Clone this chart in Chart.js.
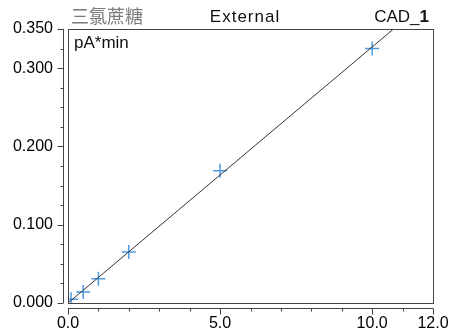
<!DOCTYPE html>
<html>
<head>
<meta charset="utf-8">
<script src="https://cdn.jsdelivr.net/npm/chart.js@4"></script>
<style>
  html, body { margin: 0; padding: 0; background: #fff; }
  #wrap { width: 449px; height: 334px; }
</style>
</head>
<body>
<div id="wrap"><canvas id="calib"></canvas></div>
<script>
// standards: amount vs. peak area
const amounts = [0.1, 0.5, 1, 2, 5, 10];
const areas = [0.0047, 0.014, 0.031, 0.065, 0.169, 0.325];

// calibration line end points
const fitX = [0, 10.7];
const fitY = [0, 0.35];

// which ticks get a label
const xLabels = [0, 5, 10, 12];
const yLabels = [0, 0.1, 0.2, 0.3, 0.35];

const compound = '三氯蔗糖';
const method = 'External';
const detector = 'CAD_';
const channel = '1';
const unit = 'pA*min';

const FONT = "'Liberation Sans', Arial, sans-serif";

function isLabelled(list, v) {
  return list.some(l => Math.abs(l - v) < 1e-6);
}

// frame around the plot, detached axes with ticks, header texts
const framePlugin = {
  id: 'frame',
  afterDraw(chart) {
    const ctx = chart.ctx;
    const a = chart.chartArea;
    const xs = chart.scales.x;
    const ys = chart.scales.y;
    const gap = 5;

    ctx.save();
    ctx.strokeStyle = '#444';
    ctx.lineWidth = 1;
    ctx.strokeRect(Math.round(a.left) + 0.5, Math.round(a.top) + 0.5,
      Math.round(a.right - a.left), Math.round(a.bottom - a.top));

    // y axis
    const yx = Math.round(a.left) - gap + 0.5;
    ctx.beginPath();
    ctx.moveTo(yx, ys.getPixelForValue(ys.max));
    ctx.lineTo(yx, ys.getPixelForValue(ys.min));
    ys.ticks.forEach(t => {
      const py = Math.round(ys.getPixelForValue(t.value)) + 0.5;
      const len = isLabelled(yLabels, t.value) ? 6 : 3;
      ctx.moveTo(yx, py);
      ctx.lineTo(yx - len, py);
    });
    ctx.stroke();

    // x axis
    const xy = Math.round(a.bottom) + gap + 0.5;
    ctx.beginPath();
    ctx.moveTo(xs.getPixelForValue(xs.min), xy);
    ctx.lineTo(xs.getPixelForValue(xs.max), xy);
    xs.ticks.forEach(t => {
      const px = Math.round(xs.getPixelForValue(t.value)) + 0.5;
      const len = isLabelled(xLabels, t.value) ? 6 : 3;
      ctx.moveTo(px, xy);
      ctx.lineTo(px, xy + len);
    });
    ctx.stroke();

    // header
    ctx.textBaseline = 'alphabetic';
    ctx.fillStyle = '#7a7a7a';
    ctx.font = "18px 'Noto Sans CJK TC', sans-serif";
    ctx.textAlign = 'left';
    ctx.fillText(compound, a.left + 3, 23);

    ctx.fillStyle = '#111';
    ctx.font = '17px ' + FONT;
    ctx.textAlign = 'center';
    ctx.letterSpacing = '1px';
    ctx.fillText(method, 245, 22);
    ctx.letterSpacing = '0px';

    ctx.textAlign = 'left';
    ctx.font = 'bold 17px ' + FONT;
    const wBold = ctx.measureText(channel).width;
    ctx.font = '17px ' + FONT;
    const wNorm = ctx.measureText(detector).width;
    const right = 429;
    ctx.fillText(detector, right - wBold - wNorm, 22);
    ctx.font = 'bold 17px ' + FONT;
    ctx.fillText(channel, right - wBold, 22);

    ctx.font = '17px ' + FONT;
    ctx.fillText(unit, a.left + 6, 48);
    ctx.restore();
  }
};

new Chart(document.getElementById('calib'), {
  type: 'scatter',
  data: {
    datasets: [
      {
        type: 'line',
        data: fitX.map((x, i) => ({ x: x, y: fitY[i] })),
        borderColor: '#333',
        borderWidth: 1,
        pointRadius: 0,
        fill: false
      },
      {
        data: amounts.map((x, i) => ({ x: x, y: areas[i] })),
        pointStyle: 'cross',
        pointRadius: 7,
        pointBorderWidth: 1.5,
        borderColor: '#4d9be0',
        backgroundColor: '#4d9be0'
      }
    ]
  },
  options: {
    responsive: true,
    maintainAspectRatio: false,
    animation: false,
    layout: { padding: { top: 29, right: 16, left: 0, bottom: 0 } },
    plugins: {
      legend: { display: false },
      tooltip: { enabled: false }
    },
    scales: {
      x: {
        type: 'linear',
        min: 0,
        max: 12,
        afterFit: s => {
          s.height = 31;
          s.paddingLeft = 0;
          s.paddingRight = 0;
        },
        border: { display: false },
        grid: { display: false, drawTicks: false },
        ticks: {
          stepSize: 1,
          autoSkip: false,
          maxRotation: 0,
          padding: 11,
          color: '#000',
          font: { family: FONT, size: 16 },
          callback: v => isLabelled(xLabels, v) ? v.toFixed(1) : ''
        }
      },
      y: {
        min: 0,
        max: 0.35,
        afterFit: s => {
          s.width = 68;
          s.paddingTop = 0;
          s.paddingBottom = 0;
        },
        border: { display: false },
        grid: { display: false, drawTicks: false },
        ticks: {
          stepSize: 0.025,
          autoSkip: false,
          padding: 15,
          color: '#000',
          font: { family: FONT, size: 16 },
          callback: v => isLabelled(yLabels, v) ? v.toFixed(3) : ''
        }
      }
    }
  },
  plugins: [framePlugin]
});
</script>
</body>
</html>
